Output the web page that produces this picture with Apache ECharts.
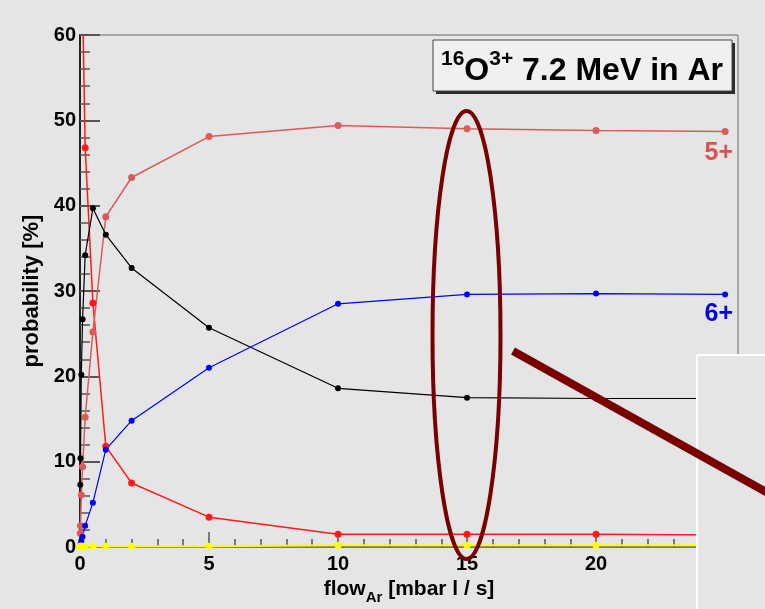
<!DOCTYPE html>
<html>
<head>
<meta charset="utf-8">
<script src="https://cdn.jsdelivr.net/npm/echarts@6/dist/echarts.min.js"></script>
<style>
html,body{margin:0;padding:0;background:#e5e5e5;}
#c{width:765px;height:609px;}
</style>
</head>
<body>
<div id="c"></div>
<script>
// ---- data ----
const flowX      = [0.01, 0.02, 0.05, 0.1, 0.2, 0.5, 1, 2, 5, 10, 15, 20, 25];
const charge4    = [7.3, 10.4, 20.2, 26.7, 34.2, 39.7, 36.6, 32.7, 25.7, 18.6, 17.5, 17.4, 17.4];
const charge5    = [1.6, 2.5, 6.1, 9.4, 15.2, 25.2, 38.7, 43.3, 48.1, 49.4, 49.0, 48.8, 48.7];
const charge6    = [0.1, 0.3, 0.7, 1.2, 2.5, 5.2, 11.4, 14.8, 21.0, 28.5, 29.6, 29.7, 29.6];
const flowX3     = [0, 0.1, 0.2, 0.5, 1, 2, 5, 10, 15, 20, 25];
const charge3    = [100, 64, 46.8, 28.6, 11.8, 7.5, 3.5, 1.5, 1.5, 1.5, 1.4];
const flowX7     = [0, 0.01, 0.02, 0.05, 0.1, 0.2, 0.5, 1, 2, 5, 10, 15, 20, 25];
const charge7    = [0.0, 0.1, 0.1, 0.1, 0.1, 0.1, 0.1, 0.1, 0.1, 0.1, 0.2, 0.2, 0.2, 0.2];
const yTicks     = [0, 10, 20, 30, 40, 50, 60];
const xTicks     = [0, 5, 10, 15, 20, 25];

const pairs = (xs, ys) => xs.map((x, i) => [x, ys[i]]);
const FONT = '"Liberation Sans", Arial, sans-serif';

const chart = echarts.init(document.getElementById('c'), null, {renderer: 'canvas'});

function mkLine(name, xs, ys, color, width, sym) {
  return {
    name, type: 'line', data: pairs(xs, ys), clip: true,
    symbol: 'circle', symbolSize: sym, showSymbol: true,
    lineStyle: {color, width}, itemStyle: {color},
    animation: false, z: 3
  };
}

chart.setOption({
  backgroundColor: '#e5e5e5',
  animation: false,
  textStyle: {fontFamily: FONT},
  grid: {left: 80, top: 35, right: 27, bottom: 62, show: true, borderColor: '#666', borderWidth: 1,
    containLabel: false, outerBoundsMode: 'none'},
  xAxis: {
    type: 'value', min: xTicks[0], max: 25.5, interval: 5,
    axisLine: {show: true, onZero: false, lineStyle: {color: '#777', width: 2}},
    axisTick: {show: true, inside: true, length: 15, lineStyle: {color: '#555', width: 1.5}},
    minorTick: {show: true, splitNumber: 5, length: 8, lineStyle: {color: '#555', width: 1.5}},
    splitLine: {show: false},
    axisLabel: {fontSize: 20, fontWeight: 'bold', color: '#000', margin: 7, fontFamily: FONT,
      showMaxLabel: false,
      formatter: v => xTicks.includes(v) ? String(v) : ''},
    name: '{b|flow}{s|Ar}{b| [mbar l / s]}',
    nameLocation: 'middle', nameGap: 27,
    nameTextStyle: {
      rich: {
        b: {fontSize: 21, fontWeight: 'bold', color: '#000', fontFamily: FONT, lineHeight: 26, verticalAlign: 'top'},
        s: {fontSize: 15, fontWeight: 'bold', color: '#000', fontFamily: FONT, lineHeight: 9, verticalAlign: 'bottom'}
      }
    }
  },
  yAxis: {
    type: 'value', min: yTicks[0], max: yTicks[yTicks.length - 1], interval: 10,
    axisLine: {show: true, lineStyle: {color: '#222', width: 2}},
    axisTick: {show: true, inside: true, length: 20, lineStyle: {color: '#555', width: 2}},
    minorTick: {show: true, splitNumber: 5, length: 10, lineStyle: {color: '#555', width: 1.5}},
    splitLine: {show: false},
    axisLabel: {fontSize: 20, fontWeight: 'bold', color: '#000', margin: 4, fontFamily: FONT},
    name: 'probability [%]', nameLocation: 'middle', nameGap: 34,
    nameTextStyle: {fontSize: 22, fontWeight: 'bold', color: '#000', fontFamily: FONT}
  },
  series: [
    mkLine('3+', flowX3, charge3, '#ff1a1a', 1.5, 7),
    mkLine('5+', flowX, charge5, '#dc5a5a', 1.5, 7),
    mkLine('4+', flowX, charge4, '#000000', 1.2, 6),
    mkLine('6+', flowX, charge6, '#0000ff', 1.2, 6),
    mkLine('7+', flowX7, charge7, '#ffff00', 2, 7)
  ],
  graphic: [
    // title box
    {type: 'rect', z: 50, shape: {x: 436, y: 43, width: 299, height: 51}, style: {fill: '#2a2a2a'}},
    {type: 'rect', z: 51, shape: {x: 433, y: 40, width: 299, height: 51}, style: {fill: '#f0f0f0', stroke: '#444', lineWidth: 1}},
    {type: 'text', z: 52, x: 582, y: 68, style: {
      text: '{sup|16}{big|O}{sup|3+}{big| 7.2 MeV in Ar}',
      align: 'center', verticalAlign: 'middle',
      rich: {
        big: {fontSize: 32, fontWeight: 'bold', fill: '#000', fontFamily: FONT, lineHeight: 38, verticalAlign: 'bottom'},
        sup: {fontSize: 21, fontWeight: 'bold', fill: '#000', fontFamily: FONT, lineHeight: 16, verticalAlign: 'top'}
      }
    }},
    // series labels
    {type: 'text', z: 52, x: 733, y: 153, style: {text: '5+', align: 'right', verticalAlign: 'middle',
      fontSize: 25, fontWeight: 'bold', fill: '#d65353', fontFamily: FONT}},
    {type: 'text', z: 52, x: 733, y: 314, style: {text: '6+', align: 'right', verticalAlign: 'middle',
      fontSize: 25, fontWeight: 'bold', fill: '#0000ee', fontFamily: FONT}},
    // ellipse annotation
    {type: 'ellipse', z: 60, shape: {cx: 466.5, cy: 335, rx: 34, ry: 224},
      style: {fill: null, stroke: '#7a0000', lineWidth: 4}},
    // overlay panel at bottom-right
    {type: 'rect', z: 70, shape: {x: 697, y: 355, width: 80, height: 270},
      style: {fill: '#e5e5e5', stroke: '#ffffff', lineWidth: 2}},
    // thick arrow line
    {type: 'line', z: 80, shape: {x1: 513, y1: 351, x2: 775, y2: 497},
      style: {stroke: '#7a0000', lineWidth: 8}}
  ]
});
</script>
</body>
</html>
